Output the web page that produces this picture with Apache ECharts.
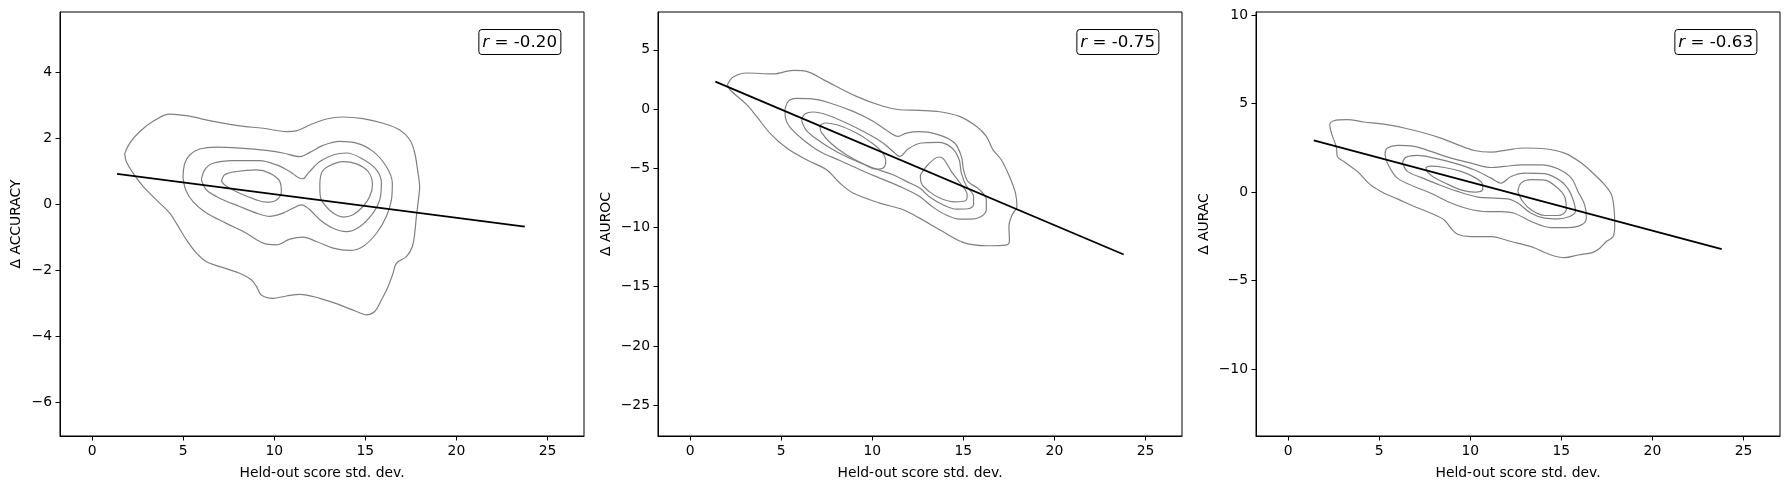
<!DOCTYPE html>
<html>
<head>
<meta charset="utf-8">
<script src="https://cdn.jsdelivr.net/npm/echarts@6/dist/echarts.min.js"></script>
<style>
html,body{margin:0;padding:0;background:#fff;}
#chart{width:1790px;height:489px;}
</style>
</head>
<body>
<div id="chart"></div>
<script>
// ---------- data ----------
const xTicks = [0, 5, 10, 15, 20, 25];
const accTicks = [-6, -4, -2, 0, 2, 4];
const aurocTicks = [-25, -20, -15, -10, -5, 0, 5];
const auracTicks = [-10, -5, 0, 5, 10];

const xRange = [-1.76, 27.0];
const accRange = [-7.02, 5.82];
const aurocRange = [-27.6, 8.19];
const auracRange = [-13.77, 10.17];

const yNames = ['\u0394 ACCURACY', '\u0394 AUROC', '\u0394 AURAC'];
const xName = 'Held-out score std. dev.';
const rValues = ['-0.20', '-0.75', '-0.63'];

// regression lines (end points)
const accFit = [[1.37, 0.92], [23.75, -0.68]];
const aurocFit = [[1.39, 2.31], [23.8, -12.28]];
const auracFit = [[1.41, 2.92], [23.8, -3.22]];

// KDE contour loops, panel 1 (ACCURACY)
const acc1 = [[1.79,1.53],[2.07,1.85],[2.62,2.20],[3.35,2.51],[4.26,2.73],[5.18,2.68],[6.64,2.51],[8.10,2.37],[9.39,2.30],[10.67,2.20],[11.21,2.22],[11.95,2.40],[12.86,2.58],[13.78,2.64],[14.87,2.59],[15.97,2.45],[16.89,2.25],[17.44,1.95],[17.71,1.55],[17.89,0.94],[17.98,0.54],[17.89,0.03],[17.80,-0.37],[17.71,-0.88],[17.58,-1.28],[17.25,-1.59],[16.70,-1.79],[16.52,-2.09],[16.25,-2.49],[15.88,-2.90],[15.51,-3.25],[15.06,-3.35],[14.51,-3.25],[13.59,-3.05],[12.50,-2.85],[11.40,-2.73],[10.67,-2.78],[9.93,-2.85],[9.29,-2.75],[9.02,-2.49],[8.74,-2.29],[8.10,-2.09],[7.01,-1.89],[6.28,-1.74],[5.73,-1.48],[5.18,-1.08],[4.63,-0.58],[4.26,-0.27],[3.53,0.13],[2.80,0.54],[2.25,0.94],[1.88,1.29]];
const acc2 = [[4.99,0.84],[5.09,1.24],[5.36,1.49],[5.91,1.67],[6.82,1.73],[8.10,1.70],[9.57,1.63],[10.48,1.55],[11.40,1.44],[11.95,1.57],[12.68,1.78],[13.59,1.90],[14.51,1.85],[15.42,1.60],[16.15,1.14],[16.48,0.64],[16.43,0.13],[16.15,-0.37],[15.61,-0.88],[14.87,-1.28],[14.14,-1.40],[13.23,-1.33],[12.31,-1.13],[11.58,-1.00],[10.85,-1.06],[10.12,-1.23],[9.39,-1.18],[8.47,-0.88],[7.37,-0.58],[6.28,-0.27],[5.54,0.08],[5.14,0.43]];
const acc3 = [[6.00,0.74],[6.18,1.04],[6.64,1.24],[7.74,1.32],[9.20,1.32],[10.12,1.19],[10.85,0.99],[11.31,0.81],[11.58,0.77],[11.86,0.94],[12.50,1.29],[13.23,1.49],[13.96,1.55],[14.87,1.36],[15.61,1.04],[15.88,0.64],[15.79,0.13],[15.42,-0.27],[14.69,-0.68],[13.96,-0.83],[13.23,-0.73],[12.50,-0.47],[11.95,-0.17],[11.49,-0.02],[11.03,-0.12],[10.48,-0.27],[9.75,-0.37],[9.02,-0.27],[8.10,-0.07],[7.01,0.18],[6.28,0.43]];
const acc4a = [[7.10,0.69],[7.28,0.89],[7.92,0.99],[9.02,1.04],[9.75,0.94],[10.30,0.69],[10.39,0.38],[10.12,0.13],[9.57,0.06],[9.02,0.13],[8.10,0.33],[7.37,0.54]];
const acc4b = [[12.50,0.54],[12.59,0.94],[12.95,1.14],[13.78,1.29],[14.51,1.22],[15.15,0.99],[15.39,0.59],[15.24,0.23],[14.87,-0.07],[14.32,-0.32],[13.78,-0.39],[13.23,-0.27],[12.77,-0.02],[12.53,0.23]];

// panel 2 (AUROC)
const auroc1 = [[2.05,2.06],[2.37,2.70],[3.11,3.04],[4.57,2.96],[5.66,3.27],[6.39,3.18],[7.31,2.48],[9.13,1.07],[10.59,0.23],[11.51,-0.06],[12.60,-0.11],[13.70,-0.23],[14.79,-0.62],[15.71,-1.46],[16.26,-2.31],[16.62,-3.43],[17.08,-4.28],[17.53,-5.69],[17.86,-7.09],[17.94,-8.22],[17.68,-8.92],[17.50,-9.91],[17.53,-11.04],[17.39,-11.46],[16.26,-11.54],[14.98,-11.26],[13.70,-10.19],[12.60,-9.21],[11.69,-8.50],[10.41,-7.94],[8.95,-7.09],[8.22,-6.25],[7.49,-5.12],[6.39,-4.28],[5.30,-3.29],[4.38,-2.03],[3.65,-0.62],[3.11,0.37],[2.19,1.63]];
const auroc2 = [[5.21,-0.06],[5.39,0.65],[5.84,0.90],[6.58,0.87],[7.67,0.51],[8.95,-0.20],[10.05,-1.04],[10.78,-1.80],[11.42,-2.31],[11.87,-2.03],[12.60,-1.91],[13.70,-2.20],[14.52,-2.87],[14.89,-4.00],[15.01,-5.12],[15.25,-6.11],[15.85,-6.76],[16.26,-7.66],[16.26,-8.50],[15.98,-9.07],[15.43,-9.29],[14.79,-9.29],[14.06,-8.95],[13.33,-8.28],[12.60,-7.38],[11.51,-6.53],[10.41,-5.83],[9.32,-5.12],[8.22,-4.34],[7.12,-3.58],[6.21,-2.59],[5.48,-1.52],[5.24,-0.76]];
const auroc3 = [[6.12,-0.96],[6.30,-0.42],[6.76,-0.25],[7.49,-0.48],[8.58,-1.18],[9.68,-2.03],[10.59,-2.87],[11.14,-3.58],[11.51,-4.00],[11.96,-3.38],[12.69,-2.87],[13.61,-2.82],[14.34,-3.24],[14.76,-4.22],[14.89,-5.41],[15.16,-6.48],[15.56,-7.38],[15.56,-8.08],[15.25,-8.42],[14.61,-8.45],[13.88,-8.08],[13.15,-7.43],[12.60,-6.67],[11.87,-6.11],[11.14,-5.55],[10.05,-4.98],[8.95,-4.28],[7.85,-3.43],[6.94,-2.53],[6.36,-1.75]];
const auroc4a = [[7.12,-1.41],[7.40,-1.18],[8.22,-1.41],[9.13,-2.03],[9.86,-2.73],[10.50,-3.58],[10.74,-4.42],[10.59,-4.98],[10.23,-5.07],[9.50,-4.62],[8.58,-3.86],[7.76,-2.93],[7.21,-1.97]];
const auroc4b = [[12.64,-5.55],[13.06,-4.70],[13.66,-4.05],[13.92,-4.22],[14.34,-5.26],[14.89,-6.39],[15.21,-7.24],[15.12,-7.74],[14.52,-7.83],[13.79,-7.57],[13.11,-6.95],[12.69,-6.25]];

// panel 3 (AURAC)
const aurac1 = [[2.48,3.05],[2.29,3.81],[2.51,4.03],[3.25,4.09],[4.16,3.96],[5.27,3.84],[6.37,3.62],[7.47,3.34],[8.39,3.05],[9.30,2.68],[10.22,2.35],[11.14,2.26],[12.06,2.39],[12.98,2.49],[14.08,2.45],[15.18,2.20],[16.10,1.64],[16.83,0.98],[17.38,0.41],[17.75,-0.15],[17.89,-0.91],[17.93,-1.85],[17.84,-2.51],[17.47,-2.79],[17.11,-3.17],[16.74,-3.40],[15.91,-3.55],[15.18,-3.70],[14.44,-3.55],[13.34,-3.08],[12.24,-2.79],[11.14,-2.51],[10.04,-2.51],[9.30,-2.38],[8.94,-2.04],[8.57,-1.57],[7.84,-1.19],[6.92,-0.81],[6.00,-0.38],[5.27,-0.06],[4.53,0.41],[3.80,1.17],[3.06,1.73],[2.70,2.02],[2.66,2.49]];
const aurac2 = [[5.32,2.20],[5.45,2.49],[6.00,2.64],[6.92,2.58],[7.84,2.30],[8.94,1.92],[10.04,1.64],[11.14,1.39],[11.87,1.45],[12.79,1.54],[13.89,1.54],[14.81,1.32],[15.55,0.79],[15.91,0.04],[16.28,-0.72],[16.37,-1.47],[16.10,-1.85],[15.36,-2.00],[14.44,-2.00],[13.34,-1.66],[12.42,-1.19],[11.69,-1.10],[10.96,-1.10],[9.86,-0.94],[8.75,-0.53],[7.84,-0.06],[6.92,0.32],[6.00,0.79],[5.54,1.45],[5.36,1.92]];
const aurac3 = [[6.28,1.64],[6.46,1.96],[7.10,2.07],[8.02,1.92],[9.12,1.64],[10.22,1.26],[11.14,0.79],[11.69,0.51],[12.24,0.88],[12.98,1.07],[14.08,1.04],[14.99,0.60],[15.45,0.04],[15.73,-0.72],[15.77,-1.10],[15.45,-1.38],[14.81,-1.51],[14.08,-1.47],[13.34,-1.19],[12.61,-0.62],[12.06,-0.38],[11.32,-0.34],[10.41,-0.28],[9.30,0.04],[8.20,0.45],[7.29,0.83],[6.55,1.17]];
const aurac4a = [[7.56,1.39],[7.84,1.47],[8.57,1.39],[9.49,1.17],[10.31,0.79],[10.68,0.41],[10.68,0.13],[10.22,0.00],[9.49,0.13],[8.75,0.45],[8.02,0.83],[7.65,1.13]];
const aurac4b = [[12.61,0.04],[12.79,0.51],[13.34,0.70],[14.08,0.68],[14.81,0.22],[15.18,-0.25],[15.27,-1.00],[14.81,-1.32],[14.08,-1.32],[13.34,-1.00],[12.88,-0.53]];

// ---------- chart ----------
const FONT = 'DejaVu Sans';
const FS = 13.9;
const minus = v => String(v).replace('-', '\u2212');
const gridLefts = [60, 658, 1256];
const yRanges = [accRange, aurocRange, auracRange];
const yTickSets = [accTicks, aurocTicks, auracTicks];
const yNameGaps = [37, 45, 45];
const fits = [accFit, aurocFit, auracFit];
const contours = [
  [acc1, acc2, acc3, acc4a, acc4b],
  [auroc1, auroc2, auroc3, auroc4a, auroc4b],
  [aurac1, aurac2, aurac3, aurac4a, aurac4b]
];
const boxRights = [1229, 631, 33];

const grid = gridLefts.map(l => ({
  left: l, top: 12, width: 524, height: 424,
  show: true, borderColor: '#000', borderWidth: 1, backgroundColor: 'transparent'
}));

const xAxis = gridLefts.map((_, i) => ({
  type: 'value', gridIndex: i, min: xRange[0], max: xRange[1],
  name: xName, nameLocation: 'middle', nameGap: 30,
  nameTextStyle: { fontFamily: FONT, fontSize: FS, color: '#000' },
  axisLine: { show: true, onZero: false, lineStyle: { color: '#000', width: 1 } },
  axisTick: { show: true, inside: false, length: 4.5, lineStyle: { color: '#000', width: 1 }, customValues: xTicks },
  axisLabel: { customValues: xTicks, margin: 8, fontFamily: FONT, fontSize: FS, color: '#000', formatter: minus },
  splitLine: { show: false }
}));

const yAxis = gridLefts.map((_, i) => ({
  type: 'value', gridIndex: i, min: yRanges[i][0], max: yRanges[i][1],
  name: yNames[i], nameLocation: 'middle', nameGap: yNameGaps[i],
  nameTextStyle: { fontFamily: FONT, fontSize: FS, color: '#000' },
  axisLine: { show: true, onZero: false, lineStyle: { color: '#000', width: 1 } },
  axisTick: { show: true, inside: false, length: 4.5, lineStyle: { color: '#000', width: 1 }, customValues: yTickSets[i] },
  axisLabel: { customValues: yTickSets[i], margin: 8, fontFamily: FONT, fontSize: FS, color: '#000', formatter: minus },
  splitLine: { show: false }
}));

const series = [];
contours.forEach((loops, i) => {
  loops.forEach(loop => {
    series.push({
      type: 'line', xAxisIndex: i, yAxisIndex: i,
      data: loop.concat([loop[0]]),
      smooth: 0.35, showSymbol: false, symbol: 'none', silent: true,
      lineStyle: { color: '#808080', width: 1.2 }, z: 2
    });
  });
  series.push({
    type: 'line', xAxisIndex: i, yAxisIndex: i,
    data: fits[i], showSymbol: false, symbol: 'none', silent: true,
    lineStyle: { color: '#000', width: 1.8 }, z: 5
  });
});

const title = rValues.map((r, i) => ({
  text: '{i|r} = ' + r,
  right: boxRights[i], top: 29,
  padding: [4, 4, 3, 4],
  backgroundColor: '#fff', borderColor: '#000', borderWidth: 1, borderRadius: 3,
  textStyle: {
    fontFamily: FONT, fontSize: 16.7, fontWeight: 'normal', color: '#000', lineHeight: 19,
    rich: { i: { fontFamily: FONT, fontSize: 16.7, fontStyle: 'italic', color: '#000', lineHeight: 19 } }
  }
}));

const chart = echarts.init(document.getElementById('chart'), null, { renderer: 'canvas' });
chart.setOption({
  animation: false,
  backgroundColor: '#fff',
  title, grid, xAxis, yAxis, series
});
</script>
</body>
</html>
